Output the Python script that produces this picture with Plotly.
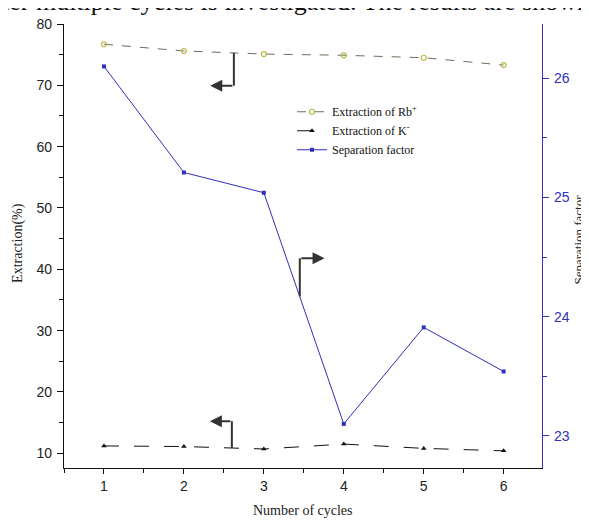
import plotly.graph_objects as go

cycles = [1, 2, 3, 4, 5, 6]
rb_extraction = [76.7, 75.6, 75.1, 74.9, 74.5, 73.3]
k_extraction = [11.2, 11.1, 10.7, 11.5, 10.8, 10.4]
separation_factor = [26.10, 25.21, 25.04, 23.10, 23.91, 23.54]

# arrow guides: (x_vertical, y_start, y_corner, x_tip, y-axis)
arrows = [
    (2.625, 75.29, 69.94, 2.33, "y"),
    (3.45, 24.17, 24.49, 3.76, "y2"),
    (2.60, 10.86, 15.24, 2.325, "y"),
]

serif = "Liberation Serif, Times New Roman, serif"
sans = "Liberation Sans, Arial, sans-serif"
blue = "#3030b8"

fig = go.Figure()
fig.add_trace(go.Scatter(
    x=cycles, y=rb_extraction, name="Extraction of Rb<sup>+</sup>",
    mode="lines+markers",
    line=dict(color="#6e6e58", width=1, dash="dash"),
    marker=dict(symbol="circle-open", size=5, color="#b8b840", line=dict(width=1.2)),
))
fig.add_trace(go.Scatter(
    x=cycles, y=k_extraction, name="Extraction of K<sup>-</sup>",
    mode="lines+markers",
    line=dict(color="#111111", width=1, dash="longdash"),
    marker=dict(symbol="triangle-up", size=5, color="#111111"),
))
fig.add_trace(go.Scatter(
    x=cycles, y=separation_factor, name="Separation factor",
    mode="lines+markers", yaxis="y2",
    line=dict(color=blue, width=1),
    marker=dict(symbol="square", size=4, color=blue),
))

shapes = []
annotations = []
for xv, y0, y1, xt, yax in arrows:
    shapes.append(dict(type="line", xref="x", yref=yax, x0=xv, x1=xv, y0=y0, y1=y1,
                       line=dict(color="#333333", width=2)))
    annotations.append(dict(x=xt, y=y1, ax=xv, ay=y1, xref="x", yref=yax,
                            axref="x", ayref=yax, text="", showarrow=True,
                            arrowhead=2, arrowsize=1.2, arrowwidth=2,
                            arrowcolor="#333333"))

title_font = dict(family=serif, size=14, color="#222222")
annotations += [
    dict(text="ter multiple cycles is investigated. The results are shown",
         xref="paper", yref="paper", x=-0.134, y=1.0125, xanchor="left", yanchor="bottom",
         showarrow=False, font=dict(family=serif, size=26, color="#111111")),
    dict(text="Extraction(%)", textangle=-90, xref="paper", yref="paper",
         x=-0.0962, y=0.507, xanchor="center", yanchor="middle",
         showarrow=False, font=title_font),
    dict(text="Number of cycles", xref="paper", yref="paper",
         x=0.5, y=-0.0946, xanchor="center", yanchor="middle",
         showarrow=False, font=title_font),
    dict(text="Separation factor", textangle=-90, xref="paper", yref="paper",
         x=1.077, y=0.514, xanchor="center", yanchor="middle",
         showarrow=False, font=dict(family=serif, size=13, color="#222222")),
]

fig.update_layout(
    width=581, height=513,
    margin=dict(l=56, r=47, t=16, b=53, autoexpand=False),
    paper_bgcolor="white", plot_bgcolor="white",
    showlegend=True,
    legend=dict(x=0.477, y=0.835, xanchor="left", yanchor="top",
                bgcolor="rgba(0,0,0,0)", font=dict(family=serif, size=12, color="#111111"),
                tracegroupgap=0),
    xaxis=dict(range=[0.5, 6.48], tickvals=cycles, ticks="outside", ticklen=5,
               tickcolor="#111111", showline=True, linecolor="#111111", linewidth=1.2,
               showgrid=False, zeroline=False, automargin=False,
               minor=dict(dtick=0.5, tick0=0.5, ticks="outside", ticklen=4, tickcolor="#111111"),
               tickfont=dict(family=sans, size=14, color="#222222")),
    xaxis2=dict(range=[0.5, 6.48], overlaying="x", side="top", automargin=False,
                tick0=1, dtick=2, ticks="inside", ticklen=6, tickcolor="#111111",
                showticklabels=False, showline=True, linecolor="#111111", linewidth=1.2,
                showgrid=False, zeroline=False,
                minor=dict(dtick=0.5, tick0=0.5, ticks="inside", ticklen=5, tickcolor="#111111")),
    yaxis=dict(range=[7.6, 80], tick0=10, dtick=10, ticks="outside", ticklen=6,
               tickcolor="#111111", showline=True, linecolor="#111111", linewidth=1.2,
               showgrid=False, zeroline=False, ticklabelstandoff=2, automargin=False,
               minor=dict(dtick=5, tick0=5, ticks="outside", ticklen=4, tickcolor="#111111"),
               tickfont=dict(family=sans, size=14, color="#222222")),
    yaxis2=dict(range=[22.73, 26.456], overlaying="y", side="right", tick0=23, dtick=1,
                ticks="outside", ticklen=6, tickcolor=blue, showline=True,
                linecolor=blue, linewidth=1.2, showgrid=False, zeroline=False,
                ticklabelstandoff=2, automargin=False,
                minor=dict(dtick=0.5, tick0=22.5, ticks="outside", ticklen=4, tickcolor=blue),
                tickfont=dict(family=sans, size=14, color=blue)),
    shapes=shapes,
    annotations=annotations,
)

fig.write_html("out.html")
